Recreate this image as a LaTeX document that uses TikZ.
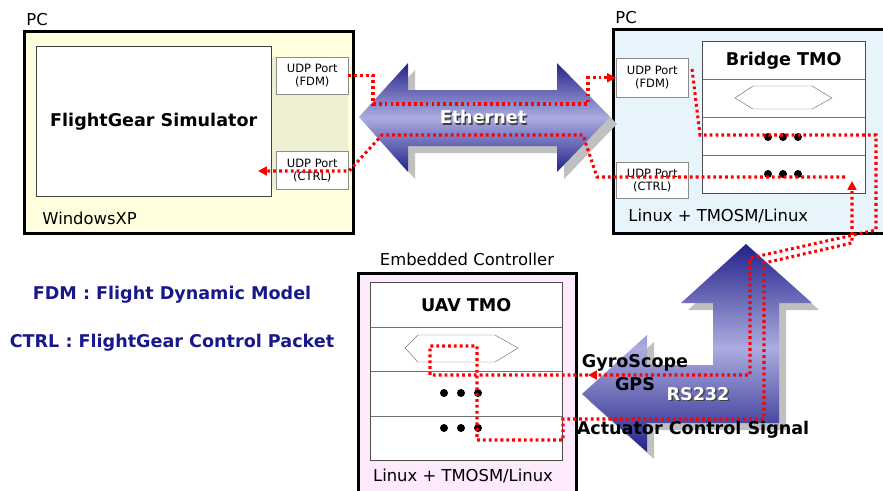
\documentclass[tikz,border=0pt]{standalone}
\usepackage{fontspec}
\setmainfont{DejaVu Sans}
\usetikzlibrary{arrows.meta}

\definecolor{pcyellow}{RGB}{255,255,222}
\definecolor{pcband}{RGB}{238,238,210}
\definecolor{pcblue}{RGB}{232,244,252}
\definecolor{ecpink}{RGB}{253,234,253}
\definecolor{legendblue}{RGB}{24,24,140}
\definecolor{arrdark}{RGB}{34,34,138}
\definecolor{arrlight}{RGB}{172,172,224}
\definecolor{shadowgray}{RGB}{192,192,192}

\begin{document}
\begin{tikzpicture}[x=.03cm,y=-.03cm,>={Triangle[length=7.5pt,width=7.5pt]},
 host/.style={draw,line width=2.6pt,anchor=north west,inner sep=0pt},
 cell/.style={draw=black!55,fill=white,anchor=north west,inner sep=0pt},
 port/.style={draw=black!45,fill=white,anchor=north west,inner sep=0pt,align=center,
   font=\fontsize{9.8}{11}\selectfont,minimum width=72*.03cm},
 lbl/.style={font=\fontsize{14}{16}\selectfont,inner sep=1pt},
 hd/.style={font=\fontsize{15}{17}\selectfont\bfseries,inner sep=1pt},
 sig/.style={red,line width=2.6pt,dash pattern=on 2.4pt off 2.6pt},
 fat/.style={top color=arrdark,bottom color=arrdark,middle color=arrlight,
   preaction={fill=shadowgray,transform canvas={shift={(7,7)}}}}]
 \useasboundingbox (0,0) rectangle (883,490);
 \clip (0,0) rectangle (883,490);

 \node[host,fill=pcyellow,minimum width=329*.03cm,minimum height=202*.03cm] (lpc) at (23,30) {};
 \fill[pcband] (272,57) rectangle (348,189);
 \node[cell,draw=black!75,minimum width=235*.03cm,minimum height=150*.03cm,hd] (sim) at (36,46) {FlightGear Simulator};
 \node[port,minimum height=37*.03cm] (lfdm) at (276,57) {UDP Port\\(FDM)};
 \node[port,minimum height=38*.03cm] (lctrl) at (276,151) {UDP Port\\(CTRL)};
 \node[lbl,anchor=west] (lpcname) at (25,20) {PC};
 \node[lbl,anchor=west] (winxp) at (41,218) {WindowsXP};

 \node[host,fill=pcblue,minimum width=290*.03cm,minimum height=204*.03cm] (rpc) at (612,28) {};
 \node[port,minimum height=39*.03cm] (rfdm) at (616,58) {UDP Port\\(FDM)};
 \node[port,minimum height=36*.03cm] (rctrl) at (616,162) {UDP Port\\(CTRL)};
 \node[cell,minimum width=163*.03cm,minimum height=38*.03cm,hd] (bt1) at (702,41) {Bridge TMO};
 \node[cell,minimum width=163*.03cm,minimum height=38*.03cm] (bt2) at (702,79) {};
 \node[cell,minimum width=163*.03cm,minimum height=38*.03cm] (bt3) at (702,117) {};
 \node[cell,minimum width=163*.03cm,minimum height=38*.03cm] (bt4) at (702,155) {};
 \draw[black!70] (bt1.north west) rectangle (bt4.south east);
 \draw[black!55,fill=white] (735,98) -- (753,86) -- (812,86) -- (832,98) -- (812,109) -- (753,109) -- cycle;
 \foreach \x in {768,783,798} {
  \fill (\x,137) circle[radius=.12cm];
  \fill (\x,174) circle[radius=.12cm];
 }
 \node[lbl,anchor=west] (rpcname) at (614,18) {PC};
 \node[lbl,anchor=west] (rlinux) at (627,216) {Linux + TMOSM/Linux};

 \node[host,fill=ecpink,minimum width=218*.03cm,minimum height=225*.03cm] (ec) at (357,272) {};
 \node[lbl] (ecname) at (467,259) {Embedded Controller};
 \node[cell,minimum width=192*.03cm,minimum height=45*.03cm,hd] (ut1) at (370,282) {UAV TMO};
 \node[cell,minimum width=192*.03cm,minimum height=44*.03cm] (ut2) at (370,327) {};
 \node[cell,minimum width=192*.03cm,minimum height=45*.03cm] (ut3) at (370,371) {};
 \node[cell,minimum width=192*.03cm,minimum height=44*.03cm] (ut4) at (370,416) {};
 \draw[black!70] (ut1.north west) rectangle (ut4.south east);
 \draw[black!55,fill=white] (405,348) -- (418,335) -- (495,335) -- (518,348) -- (495,362) -- (418,362) -- cycle;
 \foreach \x in {444,461,478} {
  \fill (\x,393) circle[radius=.12cm];
  \fill (\x,428) circle[radius=.12cm];
 }
 \node[lbl] (elinux) at (463,476) {Linux + TMOSM/Linux};

 \node[hd,text=legendblue] (fdmkey) at (172,295) {FDM : Flight Dynamic Model};
 \node[hd,text=legendblue] (ctrlkey) at (172,343) {CTRL : FlightGear Control Packet};

 \shade[fat] (359,117) -- (408,63) -- (408,90) -- (557,90) -- (557,63) -- (610,117)
  -- (557,172) -- (557,146) -- (408,146) -- (408,172) -- cycle;
 \shade[fat] (746,244) -- (812,303) -- (779,303) -- (779,423) -- (647,423) -- (647,452)
  -- (582,394) -- (647,335) -- (647,365) -- (713,365) -- (713,303) -- (681,303) -- cycle;
 \node[hd,text=black!75] (ethsh) at (484.5,118.5) {Ethernet};
 \node[hd,text=white] (eth) at (483,117) {Ethernet};
 \node[hd,text=black!75] (rssh) at (699.5,395.5) {RS232};
 \node[hd,text=white] (rs) at (698,394) {RS232};

 \coordinate (fdmout) at (692,69);
 \coordinate (ecin) at (588,375);
 \coordinate (ctrlin) at (852,181);
 \coordinate (ctrlout) at (845,177);
 \coordinate (simin) at (258,171);
 \draw[sig,->] (lfdm.east) -| (373,104) -- (588,104) |- (rfdm.west);
 \draw[sig,->] (fdmout) -- (700,135) -- (876,135) -- (876,230) -- (750,258) |- (ecin);
 \draw[sig,->] (ecin) -- (430,375) -- (430,346) -- (477,346) -- (477,440) -- (563,440)
  -- (563,419) -- (764,419) -- (764,263) -- (852,243) -- (ctrlin);
 \draw[sig,->] (ctrlout) -- (597,177) -- (583,135) -- (382,135) -- (349,171) -- (simin);

 \node[hd] (gyro) at (635,363) {GyroScope};
 \node[hd] (gps) at (635,384) {GPS};
 \node[hd] (act) at (693,430) {Actuator Control Signal};
\end{tikzpicture}
\end{document}
